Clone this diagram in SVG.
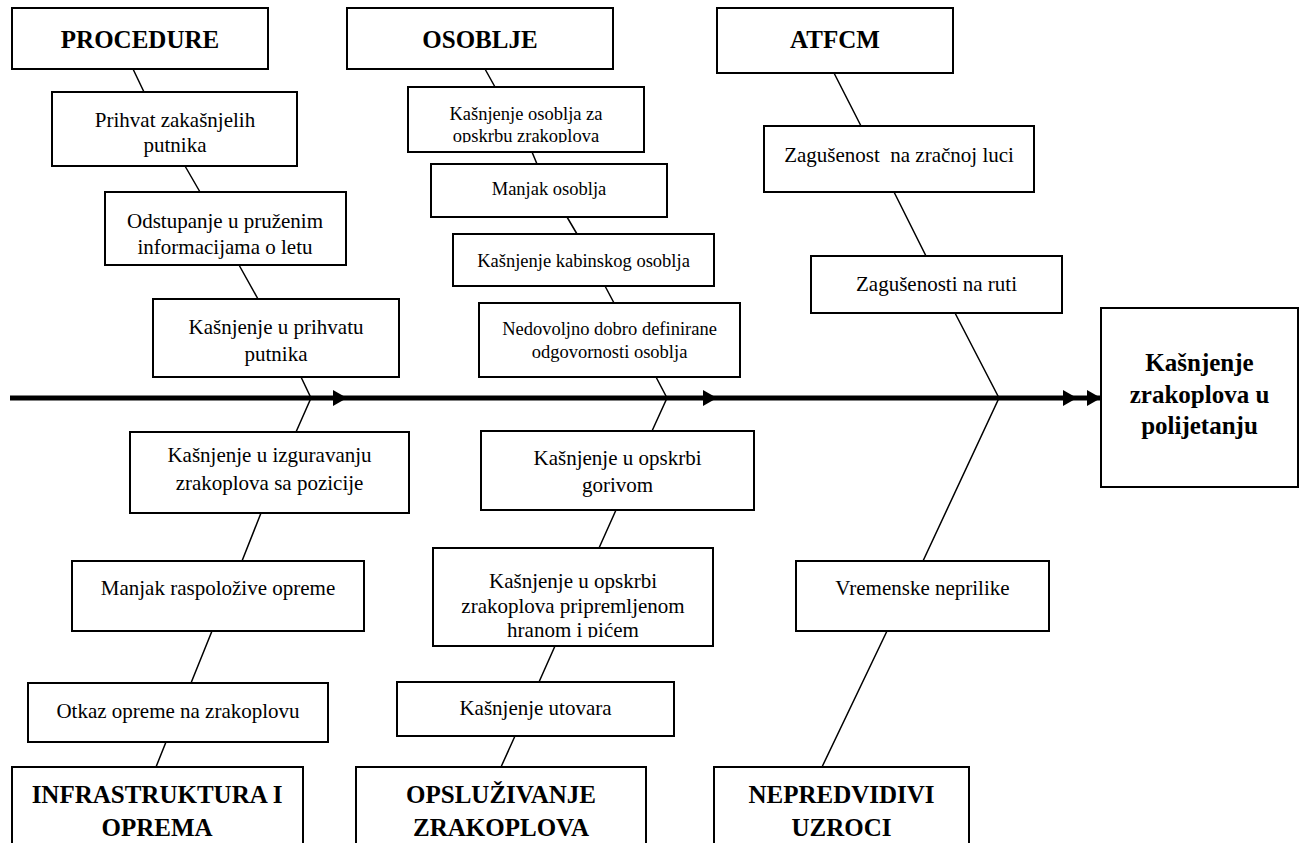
<svg xmlns="http://www.w3.org/2000/svg" width="1301" height="843" viewBox="0 0 1301 843">
<style>
.box{fill:#fff;stroke:#000;stroke-width:2}
.h{font-family:"Liberation Serif","Times New Roman",serif;font-weight:bold;font-size:25px;text-anchor:middle;fill:#000}
.t{font-family:"Liberation Serif","Times New Roman",serif;font-size:21px;text-anchor:middle;fill:#000}
.s{font-family:"Liberation Serif","Times New Roman",serif;font-size:18.5px;text-anchor:middle;fill:#000}
.bone{stroke:#000;stroke-width:1.5;fill:none}
.axis{stroke:#000;stroke-width:5;fill:none}
</style>
<defs>
<marker id="ah" markerUnits="userSpaceOnUse" markerWidth="14" markerHeight="16" refX="14" refY="8" orient="auto">
<path d="M0,0 L14,8 L0,16 z" fill="#000"/>
</marker>
<clipPath id="c1"><rect x="408" y="87" width="236" height="55.5"/></clipPath>
<clipPath id="c2"><rect x="433" y="548" width="280" height="89.5"/></clipPath>
</defs>
<rect width="1301" height="843" fill="#fff"/>
<g id="connectors">
<line class="axis" x1="10" y1="398" x2="347" y2="398" marker-end="url(#ah)"/>
<line class="axis" x1="347" y1="398" x2="717" y2="398" marker-end="url(#ah)"/>
<line class="axis" x1="717" y1="398" x2="1077" y2="398" marker-end="url(#ah)"/>
<line class="axis" x1="1077" y1="398" x2="1101" y2="398" marker-end="url(#ah)"/>
<path class="bone" d="M133,69 L144,92 M185,166 L200,192 M239,265 L258,299 M301,377 L311,398 L296,432 M261,513 L242,561 M212,631 L191,683 M166,742 L156,767"/>
<path class="bone" d="M485,69 L495,87 M532,152 L537,164 M567,217 L577,234 M605,286 L614,303 M656,377 L667,398 L652,431 M616,510 L599,548 M555,646 L539,682 M515,736 L501,767"/>
<path class="bone" d="M834,73 L861,126 M894,192 L926,256 M955,313 L999,398 L923,561 M887,631 L822,767"/>
</g>
<g id="procedure"><rect class="box" x="12" y="8" width="256" height="61"/><text class="h" x="140" y="48">PROCEDURE</text></g>
<g id="osoblje"><rect class="box" x="347" y="8" width="266" height="61"/><text class="h" x="480" y="48">OSOBLJE</text></g>
<g id="atfcm"><rect class="box" x="717" y="8" width="236" height="65"/><text class="h" x="835" y="48">ATFCM</text></g>
<g id="prihvat"><rect class="box" x="52" y="92" width="245" height="74"/><text class="t" x="175" y="127">Prihvat zakašnjelih</text><text class="t" x="175" y="152">putnika</text></g>
<g id="odstupanje"><rect class="box" x="105" y="192" width="241" height="73"/><text class="t" x="225" y="228">Odstupanje u pruženim</text><text class="t" x="225" y="254">informacijama o letu</text></g>
<g id="prihvatu"><rect class="box" x="153" y="299" width="246" height="78"/><text class="t" x="276" y="334">Kašnjenje u prihvatu</text><text class="t" x="276" y="361">putnika</text></g>
<g id="izguravanje"><rect class="box" x="130" y="432" width="279" height="81"/><text class="t" x="269.5" y="462">Kašnjenje u izguravanju</text><text class="t" x="269.5" y="490">zrakoplova sa pozicije</text></g>
<g id="manjak-opreme"><rect class="box" x="72" y="561" width="292" height="70"/><text class="t" x="218" y="595">Manjak raspoložive opreme</text></g>
<g id="otkaz"><rect class="box" x="28" y="683" width="300" height="59"/><text class="t" x="178" y="718">Otkaz opreme na zrakoplovu</text></g>
<g id="infrastruktura"><rect class="box" x="12" y="767" width="291" height="100"/><text class="h" x="157" y="803">INFRASTRUKTURA I</text><text class="h" x="157" y="836">OPREMA</text></g>
<g id="osoblje-opskrba"><rect class="box" x="408" y="87" width="236" height="65"/><g clip-path="url(#c1)"><text class="s" x="526" y="120">Kašnjenje osoblja za</text><text class="s" x="526" y="142">opskrbu zrakoplova</text></g></g>
<g id="manjak-osoblja"><rect class="box" x="431" y="164" width="236" height="53"/><text class="s" x="549" y="195">Manjak osoblja</text></g>
<g id="kabinsko"><rect class="box" x="453" y="234" width="261" height="52"/><text class="s" x="583.5" y="267">Kašnjenje kabinskog osoblja</text></g>
<g id="nedovoljno"><rect class="box" x="479" y="303" width="261" height="74"/><text class="s" x="609.5" y="335">Nedovoljno dobro definirane</text><text class="s" x="609.5" y="358">odgovornosti osoblja</text></g>
<g id="gorivo"><rect class="box" x="481" y="431" width="273" height="79"/><text class="t" x="617.5" y="465">Kašnjenje u opskrbi</text><text class="t" x="617.5" y="492">gorivom</text></g>
<g id="hrana"><rect class="box" x="433" y="548" width="280" height="98"/><g clip-path="url(#c2)"><text class="t" x="573" y="588">Kašnjenje u opskrbi</text><text class="t" x="573" y="612.5">zrakoplova pripremljenom</text><text class="t" x="573" y="637">hranom i pićem</text></g></g>
<g id="utovar"><rect class="box" x="397" y="682" width="277" height="54"/><text class="t" x="535.5" y="715">Kašnjenje utovara</text></g>
<g id="opsluzivanje"><rect class="box" x="356" y="767" width="290" height="100"/><text class="h" x="501" y="803">OPSLUŽIVANJE</text><text class="h" x="501" y="836">ZRAKOPLOVA</text></g>
<g id="zagusenost-luka"><rect class="box" x="764" y="126" width="270" height="66"/><text class="t" x="899" y="162" xml:space="preserve">Zagušenost  na zračnoj luci</text></g>
<g id="zagusenost-ruta"><rect class="box" x="811" y="256" width="251" height="57"/><text class="t" x="936.5" y="291">Zagušenosti na ruti</text></g>
<g id="vremenske"><rect class="box" x="796" y="561" width="253" height="70"/><text class="t" x="922.5" y="595">Vremenske neprilike</text></g>
<g id="nepredvidivi"><rect class="box" x="714" y="767" width="255" height="100"/><text class="h" x="841.5" y="803">NEPREDVIDIVI</text><text class="h" x="841.5" y="836">UZROCI</text></g>
<g id="rezultat"><rect class="box" x="1101" y="308" width="197" height="179"/><text class="h" x="1199.5" y="371">Kašnjenje</text><text class="h" x="1199.5" y="403">zrakoplova u</text><text class="h" x="1199.5" y="434">polijetanju</text></g>
</svg>
